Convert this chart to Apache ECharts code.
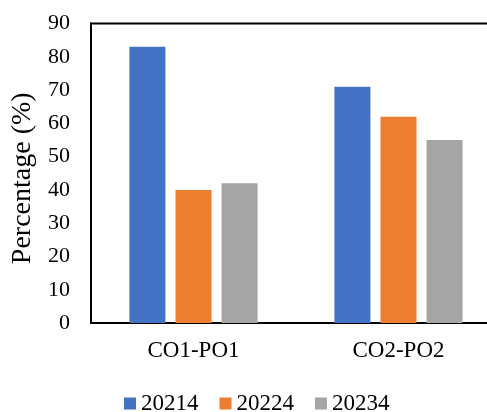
<!DOCTYPE html>
<html>
<head>
<meta charset="utf-8">
<script src="https://cdn.jsdelivr.net/npm/echarts@6/dist/echarts.min.js"></script>
<style>
  html, body { margin: 0; padding: 0; background: #fff; }
  #chart { width: 487px; height: 412px; }
</style>
</head>
<body>
<div id="chart"></div>
<script>
// Course outcome / programme outcome pairs on the x axis
const categories = ['CO1-PO1', 'CO2-PO2'];
// Attainment percentage per batch
const batchNames = ['20214', '20224', '20234'];
const values20214 = [83, 71];
const values20224 = [40, 62];
const values20234 = [42, 55];
const seriesValues = [values20214, values20224, values20234];
const seriesColors = ['#4472C4', '#ED7D31', '#A5A5A5'];
const yTicks = { min: 0, max: 90, interval: 10 };

const font = 'Liberation Serif, Times New Roman, serif';

const chart = echarts.init(document.getElementById('chart'), null, { renderer: 'canvas' });

chart.setOption({
  animation: false,
  backgroundColor: '#fff',
  textStyle: { fontFamily: font },
  grid: {
    left: 91, top: 23.5, width: 410, bottom: 89,
    outerBoundsMode: 'none',
    containLabel: false,
    show: true, borderColor: '#000', borderWidth: 2, backgroundColor: 'transparent'
  },
  legend: {
    top: 387, left: 119,
    itemWidth: 12, itemHeight: 12, itemGap: 21,
    icon: 'rect',
    textStyle: { fontFamily: font, fontSize: 23, color: '#000' },
    data: batchNames
  },
  xAxis: {
    type: 'category',
    data: categories,
    axisLine: { show: true, lineStyle: { color: '#000', width: 2 } },
    axisTick: { show: false },
    axisLabel: { fontFamily: font, fontSize: 23, color: '#000', margin: 16 }
  },
  yAxis: {
    type: 'value',
    min: yTicks.min, max: yTicks.max, interval: yTicks.interval,
    name: 'Percentage (%)',
    nameLocation: 'middle',
    nameGap: 54,
    nameTextStyle: { fontFamily: font, fontSize: 28, color: '#000', padding: [0, 10, 0, 0] },
    axisLine: { show: true, lineStyle: { color: '#000', width: 2 } },
    axisTick: { show: false },
    splitLine: { show: false },
    axisLabel: { fontFamily: font, fontSize: 22, color: '#000', margin: 21 }
  },
  series: batchNames.map((name, i) => ({
    name: name,
    type: 'bar',
    data: seriesValues[i],
    barWidth: 36,
    barGap: '28%',
    itemStyle: { color: seriesColors[i] }
  }))
});
</script>
</body>
</html>
